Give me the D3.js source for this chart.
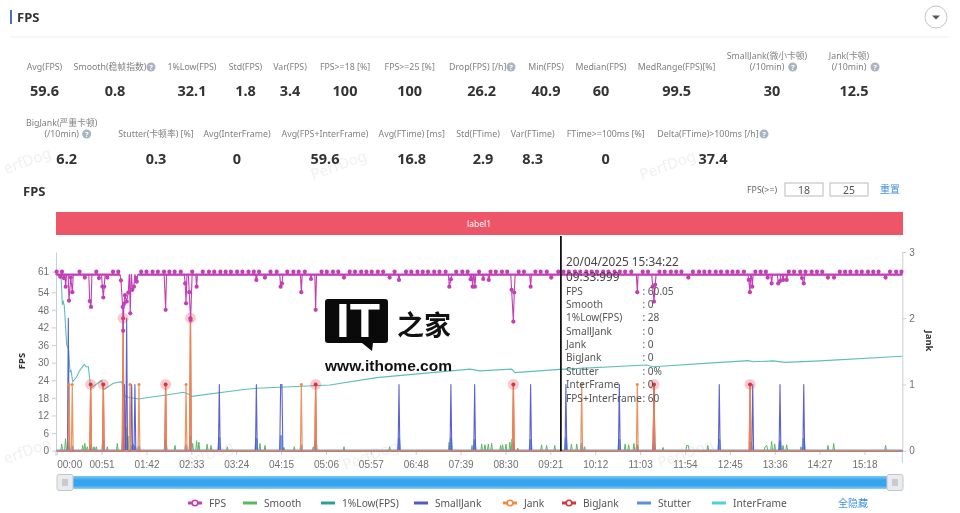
<!DOCTYPE html>
<html>
<head>
<meta charset="utf-8">
<script src="https://cdn.jsdelivr.net/npm/d3@7"></script>
<style>
html, body { margin: 0; padding: 0; background: #fff; overflow: hidden; }
svg { display: block; font-family: "Noto Sans", "Noto Sans CJK SC", sans-serif; filter: blur(0.3px); }
</style>
</head>
<body>
<div id="chart"></div>
<script>
// metrics table
var row1Labels = [["Avg(FPS)"], ["Smooth(稳帧指数)"], ["1%Low(FPS)"], ["Std(FPS)"], ["Var(FPS)"], ["FPS>=18 [%]"], ["FPS>=25 [%]"], ["Drop(FPS) [/h]"], ["Min(FPS)"], ["Median(FPS)"], ["MedRange(FPS)[%]"], ["SmallJank(微小卡顿)", "(/10min)"], ["Jank(卡顿)", "(/10min)"]];
var row1Values = ["59.6", "0.8", "32.1", "1.8", "3.4", "100", "100", "26.2", "40.9", "60", "99.5", "30", "12.5"];
var row2Labels = [["BigJank(严重卡顿)", "(/10min)"], ["Stutter(卡顿率) [%]"], ["Avg(InterFrame)"], ["Avg(FPS+InterFrame)"], ["Avg(FTime) [ms]"], ["Std(FTime)"], ["Var(FTime)"], ["FTime>=100ms [%]"], ["Delta(FTime)>100ms [/h]"]];
var row2Values = ["6.2", "0.3", "0", "59.6", "16.8", "2.9", "8.3", "0", "37.4"];

// chart axis labels
var leftTicks = [0, 6, 12, 18, 24, 30, 36, 42, 48, 54, 61];
var rightTicks = [0, 1, 2, 3];
var timeTicks = [0, 51, 102, 153, 204, 255, 306, 357, 408, 459, 510, 561, 612, 663, 714, 765, 816, 867, 918];
var timeLabels = ["00:00", "00:51", "01:42", "02:33", "03:24", "04:15", "05:06", "05:57", "06:48", "07:39", "08:30", "09:21", "10:12", "11:03", "11:54", "12:45", "13:36", "14:27", "15:18"];
var timeMax = 961;

// FPS: markers that reach 61 along the top, then the dips
var fpsPeaks = [0, 6, 13, 19, 26, 32, 38, 45, 51, 58, 64, 70, 96, 102, 109, 115, 122, 128, 134, 141, 147, 154, 160, 166, 173, 179, 186, 192, 198, 205, 211, 218, 224, 230, 237, 243, 250, 256, 262, 269, 275, 282, 288, 294, 301, 307, 314, 320, 326, 333, 339, 346, 352, 358, 365, 371, 378, 384, 390, 397, 403, 410, 416, 422, 429, 435, 442, 448, 454, 461, 467, 474, 480, 486, 493, 499, 506, 512, 518, 525, 531, 538, 544, 550, 557, 563, 570, 576, 582, 589, 595, 602, 608, 614, 621, 627, 634, 640, 646, 653, 659, 666, 672, 678, 685, 691, 698, 704, 710, 717, 723, 730, 736, 742, 749, 755, 762, 768, 774, 781, 787, 794, 800, 806, 813, 819, 826, 832, 838, 845, 851, 858, 864, 870, 877, 883, 890, 896, 902, 909, 915, 922, 928, 934, 941, 947, 954, 960];
var fpsDips = [[4, 59.3], [8, 58.8], [10.2, 55.9], [14, 51.1], [16, 59], [17.8, 54], [32, 59], [37.5, 51], [39, 49], [48, 58.8], [51.9, 55.9], [53, 52.2], [54, 55.9], [57.5, 59], [73, 58], [75, 49], [75.5, 40.9], [76.4, 50], [77.6, 53], [79.5, 50.8], [81.4, 53.9], [83.6, 46.8], [86, 54.8], [87.8, 55.9], [90, 58.8], [91, 57.6], [123.8, 48], [146, 57], [147, 50.2], [150.6, 54], [152.2, 44.5], [159, 55.9], [226.9, 58.2], [236.7, 59], [254.5, 55.9], [256, 57], [278, 54], [289, 58.5], [294.3, 48], [326.5, 59], [378.4, 59], [389, 58.2], [446.2, 55.9], [448, 58.4], [470.5, 58.4], [472.7, 55.9], [475.3, 55.9], [484.8, 58.5], [491, 58.2], [517, 54.8], [519, 44], [520, 53.9], [538.6, 55.9], [562, 59], [659.8, 54], [677.3, 55.9], [678.8, 50.8], [680.2, 56.5], [717.8, 59], [786.5, 58.2], [787.8, 54], [790.5, 55.9], [808, 59], [812.5, 57], [820, 57], [822, 57.8], [825.5, 58.2], [829.6, 58.2], [847, 58.8], [849, 57], [876.5, 59], [883.4, 59], [942, 59]];
// stretches where FPS holds steady at 60
var fpsSteady = [[[0, 60], [72, 60]], [[93, 60], [961, 60]]];

// 1%Low(FPS)
var lowPoints = [[0, 60], [4.9, 59.9], [6.4, 49.7], [7.6, 50.8], [8.7, 49.1], [11.4, 36], [13.3, 34.9], [15.2, 26.9], [16.3, 27.3], [18.2, 23.5], [22.7, 25.2], [26.5, 27.5], [31.4, 29.4], [33.3, 28.6], [36, 28.6], [38.6, 21.3], [51.1, 23.9], [53, 20.7], [64.4, 23], [73.9, 23.5], [76.9, 19], [78.8, 18.4], [92.8, 17.6], [109.8, 18.4], [125, 19], [143.9, 19.9], [149.6, 19.3], [153.4, 18.5], [208.3, 20.7], [227.3, 21.3], [310.6, 22.4], [363.6, 24.9], [469.7, 27.8], [481, 27.2], [517, 27.8], [520.8, 26.6], [571.9, 27.7], [670.4, 29.2], [678, 28.6], [753.8, 30.1], [786, 30.7], [791.6, 30.3], [814.4, 30.6], [827.6, 30.1], [867.4, 30.6], [961, 32.2]];

// right axis series, only the non zero moments
var smoothPoints = [[5.7, 0.1], [10, 0.18], [14, 0.08], [29.5, 0.08], [32, 0.11], [34.8, 0.06], [39.4, 0.07], [42.4, 0.06], [45, 0.06], [57.5, 0.06], [68.9, 0.11], [78.8, 0.35], [81, 0.22], [87, 0.1], [134.4, 0.08], [154.5, 0.11], [159, 0.15], [161.6, 0.13], [171, 0.1], [175.4, 0.08], [193.9, 0.06], [231, 0.11], [236.7, 0.08], [258.3, 0.05], [270, 0.06], [291.6, 0.06], [326.5, 0.06], [378.4, 0.06], [446, 0.13], [472, 0.08], [475, 0.15], [483, 0.1], [486.7, 0.09], [490.5, 0.1], [494.3, 0.11], [504.5, 0.08], [506.8, 0.09], [510.6, 0.1], [515, 0.13], [517.5, 0.18], [524, 0.04], [551, 0.09], [556.8, 0.08], [566, 0.08], [578.7, 0.1], [585, 0.1], [591, 0.1], [600, 0.06], [646, 0.1], [650, 0.09], [656, 0.11], [660, 0.08], [689, 0.05], [716, 0.08], [717.8, 0.08], [740, 0.08], [805, 0.06], [807, 0.08], [812.5, 0.14], [816, 0.1], [822, 0.13], [825.5, 0.08], [829.6, 0.09], [845.8, 0.06], [876.5, 0.08], [883, 0.11], [942, 0.08]];
var smallJankPoints = [[13.2, 2], [77, 1], [79.5, 2], [85.2, 1], [88.9, 1], [184.8, 1], [226.9, 1], [254.5, 1], [256, 1], [389, 1], [448, 1], [475, 1], [538.6, 1], [578.7, 1], [639.4, 1], [678.8, 1], [753, 1], [791, 1], [822, 1], [849, 1]];
var jankPoints = [[14, 1], [17.7, 1], [38.6, 1], [53, 1], [75.5, 2], [83.3, 1], [93.5, 1], [123.8, 1], [147, 1], [152, 2], [278, 1], [294.3, 1], [519, 1], [596.6, 1], [659.8, 1], [678.8, 1], [788, 1]];
var bigJankPoints = [[38.6, 1], [53, 1], [75.5, 2], [123.8, 1], [152, 2], [294.3, 1], [519, 1], [678.8, 1], [788, 1]];
var stutterPoints = [[13.2, 0.1], [17.7, 0.06], [38.6, 0.08], [53, 0.16], [75.5, 0.2], [79.5, 0.12], [85.2, 0.06], [88.9, 0.06], [93.5, 0.06], [123.8, 0.16], [147, 0.08], [152, 0.21], [184.8, 0.19], [226.9, 0.18], [255, 0.22], [278, 0.08], [294.3, 0.16], [389, 0.18], [448, 0.18], [475, 0.16], [519, 0.12], [538.6, 0.16], [578.7, 0.19], [596.6, 0.1], [639.4, 0.16], [659.8, 0.08], [678.8, 0.12], [753, 0.16], [789, 0.12], [822, 0.14], [849, 0.18]];
var interFramePoints = [[0, 0], [961, 0]];

// tooltip under the cursor
var cursorTime = 573;
var tipNames = ["FPS", "Smooth", "1%Low(FPS)", "SmallJank", "Jank", "BigJank", "Stutter", "InterFrame", "FPS+InterFrame"];
var tipValues = ["60.05", "0", "28", "0", "0", "0", "0%", "0", "60"];

// legend
var legendNames = ["FPS", "Smooth", "1%Low(FPS)", "SmallJank", "Jank", "BigJank", "Stutter", "InterFrame"];
var legendColors = ["#c23fb5", "#5cb85c", "#2aa198", "#5358d0", "#f08a3c", "#d8343f", "#5b90e0", "#4fd0e0"];
var legendDots = [true, false, false, false, true, true, false, false];

var svg = d3.select("#chart").append("svg")
    .attr("width", 960)
    .attr("height", 513);

// page header
svg.append("rect").attr("x", 10).attr("y", 10).attr("width", 2).attr("height", 14).attr("fill", "#4a6fc0");
svg.append("text").attr("x", 17).attr("y", 22).attr("font-size", 13).attr("font-weight", 700).attr("fill", "#333").text("FPS");
svg.append("line").attr("x1", 10).attr("x2", 948).attr("y1", 37).attr("y2", 37).attr("stroke", "#eeeeee");
svg.append("circle").attr("cx", 936).attr("cy", 17).attr("r", 11).attr("fill", "#fff").attr("stroke", "#c4c4c4");
svg.append("path").attr("d", "M932,15.5h8l-4,4z").attr("fill", "#555");

// PerfDog watermarks, the two at the left edge only show their tail
var marks = [[313, 180, "PerfDog"], [642, 180, "PerfDog"], [345, 470, "PerfDog"], [660, 468, "PerfDog"], [180, 470, "PerfDog"]];
var edgeMarks = [[6, 174, "erfDog"], [6, 464, "erfDog"]];
svg.selectAll(".wm").data(marks.concat(edgeMarks)).enter().append("text")
    .attr("transform", function(d) { return "translate(" + d[0] + "," + d[1] + ") rotate(-20)"; })
    .attr("font-size", 15).attr("fill", "#f0f0f0").text(function(d) { return d[2]; });

// metric cells
var row1X = [44.5, 115, 192, 245.5, 290, 345, 409.7, 481.7, 546, 601, 676.7, 772, 854];
var row2X = [66.7, 156, 237, 325, 411.7, 483, 532.7, 605.7, 713];
var row1Help = [[151, 67], [511, 67], [792.7, 67], [875, 67]];
var row2Help = [[86.7, 134]];

function drawRow(labels, values, xs, labelY, valueY, shift) {
    labels.forEach(function(lines, i) {
        lines.forEach(function(line, j) {
            svg.append("text")
                .attr("x", xs[i] + (shift[i] || 0))
                .attr("y", labelY - (lines.length - 1 - j) * 11)
                .attr("text-anchor", "middle")
                .attr("font-size", 8.8)
                .attr("fill", "#808080")
                .text(line);
        });
        svg.append("text")
            .attr("x", xs[i])
            .attr("y", valueY)
            .attr("text-anchor", "middle")
            .attr("font-size", 14.5)
            .attr("font-weight", 700)
            .attr("fill", "#333")
            .text(values[i]);
    });
}
drawRow(row1Labels, row1Values, row1X, 70, 96, {1: -5, 7: -4, 11: -5, 12: -5});
drawRow(row2Labels, row2Values, row2X, 137, 164, {0: -5, 5: -5, 8: -5});

var helpIcons = row1Help.concat(row2Help).concat([[764, 134]]);
helpIcons.forEach(function(p) {
    svg.append("circle").attr("cx", p[0]).attr("cy", p[1]).attr("r", 4.5).attr("fill", "#a9b4c2");
    svg.append("text").attr("x", p[0]).attr("y", p[1] + 3).attr("text-anchor", "middle")
        .attr("font-size", 7.5).attr("font-weight", 700).attr("fill", "#fff").text("?");
});

// chart title and threshold boxes
svg.append("text").attr("x", 23).attr("y", 196).attr("font-size", 13).attr("font-weight", 700).attr("fill", "#333").text("FPS");
svg.append("text").attr("x", 747).attr("y", 193).attr("font-size", 8.8).attr("fill", "#666").text("FPS(>=)");
[[785, "18"], [830, "25"]].forEach(function(b) {
    svg.append("rect").attr("x", b[0]).attr("y", 183).attr("width", 38).attr("height", 13).attr("fill", "#fff").attr("stroke", "#bbb");
    svg.append("text").attr("x", b[0] + 19).attr("y", 194).attr("text-anchor", "middle").attr("font-size", 10.5).attr("fill", "#555").text(b[1]);
});
svg.append("text").attr("x", 880).attr("y", 193).attr("font-size", 10).attr("fill", "#3f8fe0").text("重置");

// label band
svg.append("rect").attr("x", 56).attr("y", 212).attr("width", 847).attr("height", 23).attr("fill", "#ef5568");
svg.append("text").attr("x", 479).attr("y", 227).attr("text-anchor", "middle").attr("font-size", 8.5).attr("fill", "#fff").text("label1");

// scales
var x = d3.scaleLinear().domain([0, timeMax]).range([56.7, 902.3]);
var yLeft = d3.scaleLinear().domain([0, 67.7]).range([450.7, 252]);
var yRight = d3.scaleLinear().domain([0, 3]).range([450.7, 252]);

function styleAxis(g) {
    g.select(".domain").attr("stroke", "#c8ced6");
    g.selectAll(".tick line").attr("stroke", "#c8ced6");
    g.selectAll("text").attr("fill", "#707070").attr("font-size", 10).attr("font-family", "inherit");
}

svg.append("g")
    .attr("transform", "translate(56,0)")
    .call(d3.axisLeft(yLeft).tickValues(leftTicks).tickSize(4).tickSizeOuter(0).tickFormat(d3.format("d")))
    .call(styleAxis);

svg.append("g")
    .attr("transform", "translate(902.3,0)")
    .call(d3.axisRight(yRight).tickValues(rightTicks).tickSize(4).tickSizeOuter(0).tickFormat(d3.format("d")))
    .call(styleAxis);
// right axis runs on past the zero line
svg.append("line").attr("x1", 902.3).attr("x2", 902.3).attr("y1", 450).attr("y2", 463).attr("stroke", "#c8ced6");
svg.append("line").attr("x1", 56).attr("x2", 56).attr("y1", 450).attr("y2", 456).attr("stroke", "#c8ced6");

var xAxis = svg.append("g")
    .attr("transform", "translate(0,451)")
    .call(d3.axisBottom(x).tickValues(timeTicks).tickSize(4).tickFormat(function(d, i) { return timeLabels[i]; }))
    .call(styleAxis);
xAxis.select(".domain").attr("stroke", "none");
xAxis.selectAll(".tick text").attr("dy", "1em");
xAxis.select(".tick text").attr("text-anchor", "start");

svg.append("text").attr("transform", "translate(25,361) rotate(-90)").attr("text-anchor", "middle")
    .attr("font-size", 9.5).attr("font-weight", 700).attr("fill", "#333").text("FPS");
svg.append("text").attr("transform", "translate(926,341) rotate(90)").attr("text-anchor", "middle")
    .attr("font-size", 9.5).attr("font-weight", 700).attr("fill", "#333").text("Jank");

// put the resting level either side of every reading so a spike goes back down
function withBase(points, base) {
    var out = [];
    points.forEach(function(p, i) {
        var prev = i > 0 ? points[i - 1][0] : -Infinity;
        var next = i < points.length - 1 ? points[i + 1][0] : Infinity;
        if (p[0] - prev > 2) out.push([p[0] - 1, base]);
        out.push(p);
        if (next - p[0] > 2) out.push([p[0] + 1, base]);
    });
    return [[0, base]].concat(out, [[timeMax, base]]);
}

var rightLine = d3.line()
    .x(function(d) { return x(d[0]); })
    .y(function(d) { return yRight(d[1]); });
var leftLine = d3.line()
    .x(function(d) { return x(d[0]); })
    .y(function(d) { return yLeft(d[1]); });

function drawRight(points, color, width, opacity) {
    svg.append("path")
        .datum(withBase(points, 0))
        .attr("fill", "none")
        .attr("stroke", color)
        .attr("stroke-width", width)
        .attr("opacity", opacity)
        .attr("stroke-linejoin", "round")
        .attr("d", rightLine);
}

// draw order follows the picture, jank baseline ends on top
svg.append("path").datum(interFramePoints).attr("fill", "none").attr("stroke", "#4fd0e0").attr("d", rightLine);
svg.append("path").datum(lowPoints).attr("fill", "none").attr("stroke", "#5cbfbb").attr("stroke-width", 1.1).attr("d", leftLine);
drawRight(smoothPoints, "#5cb85c", 1, 1);
drawRight(stutterPoints, "#5b90e0", 2.2, 0.85);
drawRight(smallJankPoints, "#5358d0", 1.1, 0.95);
drawRight(bigJankPoints, "#d8343f", 1.2, 0.8);
drawRight(jankPoints, "#ea8a50", 1.2, 0.9);

svg.selectAll(".jank-dot").data(jankPoints).enter().append("circle")
    .attr("cx", function(d) { return x(d[0]); })
    .attr("cy", function(d) { return yRight(d[1]); })
    .attr("r", 1.5)
    .attr("fill", "#f08a3c");

svg.selectAll(".big-halo").data(bigJankPoints).enter().append("circle")
    .attr("cx", function(d) { return x(d[0]); })
    .attr("cy", function(d) { return yRight(d[1]); })
    .attr("r", 5.5)
    .attr("fill", "#e8404a")
    .attr("opacity", 0.28);
svg.selectAll(".big-dot").data(bigJankPoints).enter().append("circle")
    .attr("cx", function(d) { return x(d[0]); })
    .attr("cy", function(d) { return yRight(d[1]); })
    .attr("r", 2)
    .attr("fill", "#d8343f");

// FPS on top of the rest
var fpsMarks = fpsPeaks
    .filter(function(t) { return !fpsDips.some(function(d) { return Math.abs(d[0] - t) < 1.6; }); })
    .map(function(t) { return [t, 61]; })
    .concat(fpsDips)
    .sort(function(a, b) { return a[0] - b[0]; });

fpsSteady.forEach(function(stretch) {
    svg.append("path")
        .datum(stretch)
        .attr("fill", "none")
        .attr("stroke", "#c23fb5")
        .attr("stroke-width", 2.4)
        .attr("d", leftLine);
});
svg.append("path")
    .datum(withBase(fpsMarks, 60))
    .attr("fill", "none")
    .attr("stroke", "#c23fb5")
    .attr("stroke-width", 1.1)
    .attr("stroke-linejoin", "round")
    .attr("d", leftLine);
svg.selectAll(".fps-dot").data(fpsMarks).enter().append("circle")
    .attr("cx", function(d) { return x(d[0]); })
    .attr("cy", function(d) { return yLeft(d[1]); })
    .attr("r", 2.1)
    .attr("fill", "#c23fb5");

// cursor and its tooltip, no box behind the text
svg.append("line")
    .attr("x1", x(cursorTime)).attr("x2", x(cursorTime))
    .attr("y1", 236).attr("y2", 451)
    .attr("stroke", "#111").attr("stroke-width", 1.8);
svg.append("text").attr("x", 566).attr("y", 266).attr("font-size", 11.8).attr("fill", "#444").text("20/04/2025 15:34:22");
svg.append("text").attr("x", 566).attr("y", 280.5).attr("font-size", 11.8).attr("fill", "#444").text("09:33:999");
var tipY = d3.scalePoint().domain(tipNames).range([294.5, 401.5]);
tipNames.forEach(function(name, i) {
    svg.append("text").attr("x", 566).attr("y", tipY(name)).attr("font-size", 10.1).attr("fill", "#555").text(name);
    svg.append("text").attr("x", 642.5).attr("y", tipY(name)).attr("font-size", 10.1).attr("fill", "#555").text(": " + tipValues[i]);
});

// zoom slider
var barGrad = svg.append("defs").append("linearGradient").attr("id", "bar").attr("x1", 0).attr("x2", 0).attr("y1", 0).attr("y2", 1);
barGrad.append("stop").attr("offset", "0").attr("stop-color", "#7cc8f5");
barGrad.append("stop").attr("offset", "0.3").attr("stop-color", "#36a5ee");
barGrad.append("stop").attr("offset", "0.75").attr("stop-color", "#36a5ee");
barGrad.append("stop").attr("offset", "1").attr("stop-color", "#8ed0f6");
svg.append("rect").attr("x", 65).attr("y", 476).attr("width", 830).attr("height", 13).attr("fill", "url(#bar)");
[57, 887].forEach(function(hx) {
    svg.append("rect").attr("x", hx).attr("y", 474.5).attr("width", 16).attr("height", 16).attr("rx", 2)
        .attr("fill", "#e9ecef").attr("stroke", "#c6c6c6");
    [-2, 0, 2].forEach(function(o) {
        svg.append("line").attr("x1", hx + 8 + o).attr("x2", hx + 8 + o).attr("y1", 479).attr("y2", 486).attr("stroke", "#999").attr("stroke-width", 0.8);
    });
});

// legend row
var legendX = [195, 250, 328, 421, 510, 569, 644, 719];
legendNames.forEach(function(name, i) {
    var lx = legendX[i];
    svg.append("line").attr("x1", lx - 7).attr("x2", lx + 7).attr("y1", 503).attr("y2", 503)
        .attr("stroke", legendColors[i]).attr("stroke-width", 3);
    if (legendDots[i]) {
        svg.append("circle").attr("cx", lx).attr("cy", 503).attr("r", 2.8).attr("fill", "#fff")
            .attr("stroke", legendColors[i]).attr("stroke-width", 1.6);
    }
    svg.append("text").attr("x", lx + 14).attr("y", 507).attr("font-size", 10.2).attr("fill", "#555").text(name);
});
svg.append("text").attr("x", 838).attr("y", 507).attr("font-size", 10).attr("fill", "#3f8fe0").text("全隐藏");

// ithome logo pasted over the chart
svg.append("path")
    .attr("d", "M328,299H385a3,3 0 0 1 3,3V340a3,3 0 0 1 -3,3H373L372,351L362,343H328a3,3 0 0 1 -3,-3V302a3,3 0 0 1 3,-3z")
    .attr("fill", "#0a0a0a");
svg.append("text").attr("x", 336).attr("y", 337).attr("font-family", "Liberation Sans").attr("font-weight", 700)
    .attr("font-size", 49).attr("fill", "#fff").attr("textLength", 44).attr("lengthAdjust", "spacingAndGlyphs").text("IT");
svg.append("text").attr("x", 397).attr("y", 335).attr("font-family", "Noto Sans CJK SC").attr("font-weight", 700)
    .attr("font-size", 27).attr("fill", "#111").text("之家");
svg.append("text").attr("x", 325).attr("y", 371).attr("font-family", "Liberation Sans").attr("font-weight", 700).attr("font-size", 15)
    .attr("fill", "#111").attr("textLength", 127).attr("lengthAdjust", "spacingAndGlyphs").text("www.ithome.com");
</script>
</body>
</html>
